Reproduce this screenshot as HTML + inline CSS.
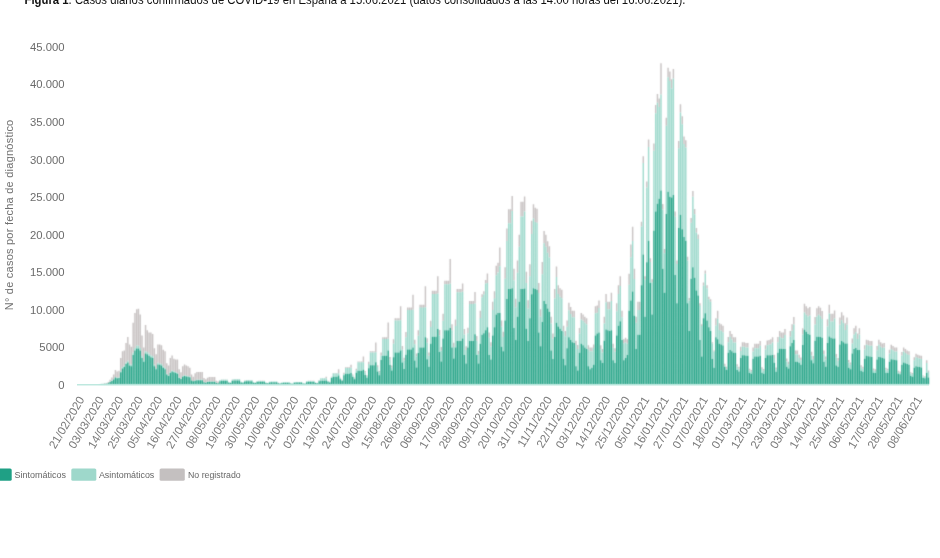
<!DOCTYPE html>
<html lang="es">
<head>
<meta charset="utf-8">
<title>Figura 1. Casos diarios confirmados de COVID-19 en España</title>
<style>
html,body{margin:0;padding:0;background:#fff;}
body{width:940px;height:558px;position:relative;overflow:hidden;font-family:"Liberation Sans",sans-serif;}
#fig{position:absolute;left:0;top:0;width:940px;height:558px;display:block;}
#fig text{font-family:"Liberation Sans",sans-serif;}
.cap{font-size:13.4px;fill:#111;}
.yl{font-size:11.3px;fill:#6b6b6b;text-anchor:end;}
.yt{font-size:11px;fill:#707070;text-anchor:middle;}
.xl{font-size:11.6px;fill:#7a7a7a;text-anchor:end;}
.lg{font-size:9.4px;fill:#666;}
</style>
</head>
<body>
<svg id="fig" width="940" height="558" viewBox="0 0 940 558">
<rect x="0" y="0" width="940" height="558" fill="#ffffff"/>
<text class="cap" x="24.5" y="3.5" textLength="661" lengthAdjust="spacingAndGlyphs"><tspan font-weight="bold">Figura 1</tspan>. Casos diarios confirmados de COVID-19 en España a 15.06.2021 (datos consolidados a las 14:00 horas del 16.06.2021).</text>
<g id="yaxis">
<text class="yl" x="64.5" y="388.8">0</text>
<text class="yl" x="64.5" y="351.25">5000</text>
<text class="yl" x="64.5" y="313.7">10.000</text>
<text class="yl" x="64.5" y="276.15">15.000</text>
<text class="yl" x="64.5" y="238.6">20.000</text>
<text class="yl" x="64.5" y="201.05">25.000</text>
<text class="yl" x="64.5" y="163.5">30.000</text>
<text class="yl" x="64.5" y="125.95">35.000</text>
<text class="yl" x="64.5" y="88.4">40.000</text>
<text class="yl" x="64.5" y="50.85">45.000</text>
</g>
<text class="yt" transform="translate(12.6,215) rotate(-90)" textLength="190.5" lengthAdjust="spacing">N° de casos por fecha de diagnóstico</text>
<defs><filter id="soft" x="0" y="0" width="940" height="558" filterUnits="userSpaceOnUse" color-interpolation-filters="sRGB"><feConvolveMatrix order="3" kernelMatrix="0.0225 0.105 0.0225 0.105 0.49 0.105 0.0225 0.105 0.0225" divisor="1" edgeMode="none"/></filter></defs>
<g id="bars" filter="url(#soft)">
<path id="s-gris" fill="#c8c3c3" d="M100.54 383.87h1.44v-0.09h-1.44zM102.31 383.71h1.44v-0.23h-1.44zM104.09 383.63h1.44v-0.3h-1.44zM105.86 383.51h1.44v-0.41h-1.44zM107.63 382.94h1.44v-0.9h-1.44zM109.4 381.74h1.44v-1.95h-1.44zM111.17 380.53h1.44v-2.99h-1.44zM112.94 378.93h1.44v-4.39h-1.44zM114.71 376.92h1.44v-6.89h-1.44zM116.48 377.72h1.44v-6.19h-1.44zM118.26 377.32h1.44v-6.54h-1.44zM120.03 371.29h1.44v-13.28h-1.44zM121.8 367.27h1.44v-16.02h-1.44zM123.57 365.67h1.44v-15.16h-1.44zM125.34 362.45h1.44v-19.46h-1.44zM127.11 360.85h1.44v-23.86h-1.44zM128.88 364.06h1.44v-19.56h-1.44zM130.65 364.86h1.44v-18.11h-1.44zM132.43 352.81h1.44v-30.09h-1.44zM134.2 347.99h1.44v-35.03h-1.44zM135.97 345.82h1.44v-36.62h-1.44zM137.74 345.82h1.44v-37h-1.44zM139.51 347.99h1.44v-33.53h-1.44zM141.28 356.02h1.44v-20.54h-1.44zM143.05 360.04h1.44v-12.54h-1.44zM144.83 351.28h1.44v-26.31h-1.44zM146.6 352.01h1.44v-21.78h-1.44zM148.37 353.61h1.44v-21.13h-1.44zM150.14 355.22h1.44v-22.74h-1.44zM151.91 356.02h1.44v-22.04h-1.44zM153.68 364.86h1.44v-16.61h-1.44zM155.45 368.08h1.44v-13.82h-1.44zM157.22 362.86h1.44v-18.36h-1.44zM159 363.26h1.44v-18.76h-1.44zM160.77 364.06h1.44v-18.81h-1.44zM162.54 366.47h1.44v-16.72h-1.44zM164.31 368.08h1.44v-16.82h-1.44zM166.08 373.7h1.44v-10.43h-1.44zM167.85 375.31h1.44v-9.79h-1.44zM169.62 372.1h1.44v-14.08h-1.44zM171.39 370.49h1.44v-15.1h-1.44zM173.17 371.29h1.44v-12.53h-1.44zM174.94 372.1h1.44v-12.58h-1.44zM176.71 372.9h1.44v-13.38h-1.44zM178.48 377.32h1.44v-8.04h-1.44zM180.25 378.52h1.44v-6.24h-1.44zM182.02 376.11h1.44v-9.84h-1.44zM183.79 375.31h1.44v-10.91h-1.44zM185.56 375.71h1.44v-10.19h-1.44zM187.34 376.11h1.44v-9.84h-1.44zM189.11 376.52h1.44v-8.74h-1.44zM190.88 380.13h1.44v-5.59h-1.44zM192.65 380.94h1.44v-4.15h-1.44zM194.42 380.24h1.44v-7.1h-1.44zM196.19 379.81h1.44v-7.9h-1.44zM197.96 379.81h1.44v-7.9h-1.44zM199.74 379.81h1.44v-7.9h-1.44zM201.51 379.81h1.44v-7.9h-1.44zM203.28 381.98h1.44v-3.88h-1.44zM205.05 382.41h1.44v-3.07h-1.44zM206.82 381.76h1.44v-4.02h-1.44zM208.59 381.5h1.44v-4.48h-1.44zM210.36 381.5h1.44v-4.48h-1.44zM212.13 381.5h1.44v-4.48h-1.44zM213.91 381.5h1.44v-4.48h-1.44zM215.68 382.82h1.44v-2.17h-1.44zM217.45 383.09h1.44v-1.7h-1.44zM219.22 380.21h1.44v-0.17h-1.44zM220.99 379.76h1.44v-0.19h-1.44zM222.76 379.76h1.44v-0.19h-1.44zM224.53 379.76h1.44v-0.19h-1.44zM226.3 379.76h1.44v-0.19h-1.44zM228.08 382.03h1.44v-0.09h-1.44zM229.85 382.48h1.44v-0.08h-1.44zM231.62 379.76h1.44v-0.19h-1.44zM233.39 379.25h1.44v-0.21h-1.44zM235.16 379.25h1.44v-0.21h-1.44zM236.93 379.25h1.44v-0.21h-1.44zM238.7 379.25h1.44v-0.21h-1.44zM240.48 381.78h1.44v-0.11h-1.44zM242.25 382.28h1.44v-0.08h-1.44zM244.02 380.67h1.44v-0.15h-1.44zM245.79 380.26h1.44v-0.17h-1.44zM247.56 380.26h1.44v-0.17h-1.44zM249.33 380.26h1.44v-0.17h-1.44zM251.1 380.26h1.44v-0.17h-1.44zM252.87 382.28h1.44v-0.08h-1.44zM254.65 382.69h1.44v-0.07h-1.44zM256.42 381.25h1.44v-0.13h-1.44zM258.19 380.91h1.44v-0.14h-1.44zM259.96 380.91h1.44v-0.14h-1.44zM261.73 380.91h1.44v-0.14h-1.44zM263.5 380.91h1.44v-0.14h-1.44zM265.27 382.61h1.44v-0.07h-1.44zM267.04 382.94h1.44v-0.06h-1.44zM268.82 381.83h1.44v-0.1h-1.44zM270.59 381.56h1.44v-0.11h-1.44zM272.36 381.56h1.44v-0.11h-1.44zM274.13 381.56h1.44v-0.11h-1.44zM275.9 381.56h1.44v-0.11h-1.44zM277.67 382.93h1.44v-0.06h-1.44zM281.22 382.48h1.44v-0.08h-1.44zM282.99 382.28h1.44v-0.08h-1.44zM284.76 382.28h1.44v-0.08h-1.44zM286.53 382.28h1.44v-0.08h-1.44zM288.3 382.28h1.44v-0.08h-1.44zM293.61 382.22h1.44v-0.09h-1.44zM295.39 381.99h1.44v-0.1h-1.44zM297.16 381.99h1.44v-0.1h-1.44zM298.93 381.99h1.44v-0.1h-1.44zM300.7 381.99h1.44v-0.1h-1.44zM306.01 381.32h1.44v-0.12h-1.44zM307.78 380.98h1.44v-0.14h-1.44zM309.56 380.98h1.44v-0.14h-1.44zM311.33 380.98h1.44v-0.14h-1.44zM313.1 380.98h1.44v-0.14h-1.44zM314.87 382.64h1.44v-0.07h-1.44zM316.64 382.97h1.44v-0.06h-1.44zM318.41 380.53h1.44v-0.42h-1.44zM320.18 378.36h1.44v-0.22h-1.44zM321.96 378.36h1.44v-0.22h-1.44zM323.73 378.36h1.44v-0.22h-1.44zM325.5 378.33h1.44v-1.46h-1.44zM327.27 381.09h1.44v-0.36h-1.44zM329.04 382.08h1.44v-0.25h-1.44zM330.81 377.41h1.44v-0.77h-1.44zM332.58 373.43h1.44v-0.39h-1.44zM334.35 373.43h1.44v-0.39h-1.44zM336.13 373.43h1.44v-0.39h-1.44zM337.9 373.37h1.44v-4.09h-1.44zM339.67 378.42h1.44v-0.65h-1.44zM341.44 380.24h1.44v-0.45h-1.44zM343.21 373.91h1.44v-1.15h-1.44zM344.98 367.92h1.44v-0.59h-1.44zM346.75 367.92h1.44v-0.59h-1.44zM348.52 367.92h1.44v-0.59h-1.44zM350.3 367.84h1.44v-3.06h-1.44zM352.07 375.44h1.44v-0.98h-1.44zM353.84 378.19h1.44v-0.68h-1.44zM355.61 370.37h1.44v-1.55h-1.44zM357.38 362.34h1.44v-0.8h-1.44zM359.15 362.34h1.44v-0.8h-1.44zM360.92 362.34h1.44v-0.8h-1.44zM362.69 362.23h1.44v-5.71h-1.44zM364.47 372.42h1.44v-1.32h-1.44zM366.24 376.11h1.44v-0.91h-1.44zM368.01 364.08h1.44v-2.25h-1.44zM369.78 352.41h1.44v-1.16h-1.44zM371.55 352.41h1.44v-1.16h-1.44zM373.32 352.41h1.44v-1.16h-1.44zM375.09 352.25h1.44v-9.7h-1.44zM376.87 367.05h1.44v-1.92h-1.44zM378.64 372.4h1.44v-1.32h-1.44zM380.41 355.57h1.44v-3.19h-1.44zM382.18 339.01h1.44v-1.64h-1.44zM383.95 339.01h1.44v-1.64h-1.44zM385.72 339.01h1.44v-1.64h-1.44zM387.49 338.77h1.44v-16.2h-1.44zM389.26 359.8h1.44v-2.72h-1.44zM391.04 367.4h1.44v-1.88h-1.44zM392.81 343.85h1.44v-4.49h-1.44zM394.58 320.53h1.44v-2.31h-1.44zM396.35 320.53h1.44v-2.31h-1.44zM398.12 320.53h1.44v-2.31h-1.44zM399.89 320.19h1.44v-14h-1.44zM401.66 349.8h1.44v-3.83h-1.44zM403.43 360.51h1.44v-2.64h-1.44zM405.21 337.24h1.44v-5.23h-1.44zM406.98 310.09h1.44v-2.69h-1.44zM408.75 310.09h1.44v-2.69h-1.44zM410.52 310.09h1.44v-2.69h-1.44zM412.29 309.7h1.44v-15.07h-1.44zM414.06 344.16h1.44v-4.46h-1.44zM415.83 356.62h1.44v-3.08h-1.44zM417.61 335.67h1.44v-5.4h-1.44zM419.38 307.63h1.44v-2.78h-1.44zM421.15 307.63h1.44v-2.78h-1.44zM422.92 307.63h1.44v-2.78h-1.44zM424.69 307.23h1.44v-20.86h-1.44zM426.46 342.82h1.44v-4.61h-1.44zM428.23 355.7h1.44v-3.18h-1.44zM430 327.08h1.44v-6.36h-1.44zM431.78 294.07h1.44v-3.27h-1.44zM433.55 294.07h1.44v-3.27h-1.44zM435.32 294.07h1.44v-3.27h-1.44zM437.09 293.61h1.44v-17.45h-1.44zM438.86 335.49h1.44v-5.42h-1.44zM440.63 350.64h1.44v-3.74h-1.44zM442.4 320.87h1.44v-7.05h-1.44zM444.17 284.29h1.44v-3.63h-1.44zM445.95 284.29h1.44v-3.63h-1.44zM447.72 284.29h1.44v-3.63h-1.44zM449.49 283.77h1.44v-24.89h-1.44zM451.26 330.2h1.44v-6.01h-1.44zM453.03 346.99h1.44v-4.15h-1.44zM454.8 325.93h1.44v-6.49h-1.44zM456.57 292.26h1.44v-3.34h-1.44zM458.35 292.26h1.44v-3.34h-1.44zM460.12 292.26h1.44v-3.34h-1.44zM461.89 291.78h1.44v-8.34h-1.44zM463.66 334.51h1.44v-5.53h-1.44zM465.43 349.96h1.44v-3.82h-1.44zM467.2 333.33h1.44v-5.66h-1.44zM468.97 303.93h1.44v-2.92h-1.44zM470.74 303.93h1.44v-2.92h-1.44zM472.52 303.93h1.44v-2.92h-1.44zM474.29 303.51h1.44v-11.44h-1.44zM476.06 340.82h1.44v-4.83h-1.44zM477.83 354.32h1.44v-3.33h-1.44zM479.6 318.06h1.44v-7.36h-1.44zM481.37 297.33h1.44v-3.15h-1.44zM483.14 294.44h1.44v-3.26h-1.44zM484.91 283.56h1.44v-3.65h-1.44zM486.69 283.04h1.44v-9.44h-1.44zM488.46 337.66h1.44v-5.18h-1.44zM490.23 346.45h1.44v-4.21h-1.44zM492 309.95h1.44v-8.26h-1.44zM493.77 298.63h1.44v-7.45h-1.44zM495.54 275.13h1.44v-9.49h-1.44zM497.31 272.37h1.44v-9.73h-1.44zM499.09 266.29h1.44v-18.67h-1.44zM500.86 326.85h1.44v-6.38h-1.44zM502.63 336.99h1.44v-5.26h-1.44zM504.4 278.86h1.44v-11.72h-1.44zM506.17 240.93h1.44v-12.47h-1.44zM507.94 223.32h1.44v-14h-1.44zM509.71 223.32h1.44v-14h-1.44zM511.48 210.95h1.44v-15.07h-1.44zM513.26 280.21h1.44v-11.57h-1.44zM515.03 307.25h1.44v-8.56h-1.44zM516.8 272.78h1.44v-12.39h-1.44zM518.57 246.81h1.44v-11.96h-1.44zM520.34 216.41h1.44v-14.6h-1.44zM522.11 216.41h1.44v-14.6h-1.44zM523.88 211.57h1.44v-15.02h-1.44zM525.65 282.92h1.44v-11.26h-1.44zM527.43 308.6h1.44v-8.41h-1.44zM529.2 276.16h1.44v-12.02h-1.44zM530.97 233.89h1.44v-13.08h-1.44zM532.74 218.62h1.44v-14.41h-1.44zM534.51 221.93h1.44v-14.12h-1.44zM536.28 222.69h1.44v-14.05h-1.44zM538.05 293.05h1.44v-10.14h-1.44zM539.82 316.71h1.44v-7.51h-1.44zM541.6 274.13h1.44v-12.24h-1.44zM543.37 243.28h1.44v-12.26h-1.44zM545.14 246.81h1.44v-11.96h-1.44zM546.91 252.68h1.44v-11.45h-1.44zM548.68 257.38h1.44v-11.04h-1.44zM550.45 323.47h1.44v-6.76h-1.44zM552.22 338.54h1.44v-5.08h-1.44zM554 298.46h1.44v-9.54h-1.44zM555.77 277h1.44v-10.61h-1.44zM557.54 294.09h1.44v-8.92h-1.44zM559.31 296.82h1.44v-8.65h-1.44zM561.08 298.19h1.44v-8.52h-1.44zM562.85 331.58h1.44v-5.86h-1.44zM564.62 336.31h1.44v-5.33h-1.44zM566.39 326.85h1.44v-6.38h-1.44zM568.17 310.15h1.44v-7.33h-1.44zM569.94 313.91h1.44v-6.96h-1.44zM571.71 317.33h1.44v-6.62h-1.44zM573.48 317.33h1.44v-6.62h-1.44zM575.25 345.1h1.44v-4.36h-1.44zM577.02 348.88h1.44v-3.94h-1.44zM578.79 333.61h1.44v-5.63h-1.44zM580.56 319.38h1.44v-6.42h-1.44zM582.34 320.74h1.44v-6.29h-1.44zM584.11 322.79h1.44v-6.08h-1.44zM585.88 324.16h1.44v-5.95h-1.44zM587.65 349.15h1.44v-3.91h-1.44zM589.42 351.18h1.44v-3.68h-1.44zM591.19 351.18h1.44v-3.68h-1.44zM592.96 348.08h1.44v-3.58h-1.44zM594.74 313.23h1.44v-7.03h-1.44zM596.51 312.68h1.44v-7.08h-1.44zM598.28 308.03h1.44v-7.54h-1.44zM600.05 349.15h1.44v-3.91h-1.44zM601.82 352.53h1.44v-3.53h-1.44zM603.59 323.47h1.44v-6.76h-1.44zM605.36 302.22h1.44v-8.12h-1.44zM607.13 309.19h1.44v-7.43h-1.44zM608.91 309.19h1.44v-7.43h-1.44zM610.68 301.06h1.44v-8.23h-1.44zM612.45 347.8h1.44v-4.06h-1.44zM614.22 351.86h1.44v-3.6h-1.44zM615.99 311.3h1.44v-8.11h-1.44zM617.76 294.09h1.44v-8.92h-1.44zM619.53 285.89h1.44v-9.73h-1.44zM621.3 317.33h1.44v-6.62h-1.44zM623.08 343.3h1.44v-4.06h-1.44zM624.85 342.39h1.44v-4.66h-1.44zM626.62 343.75h1.44v-4.51h-1.44zM628.39 284.74h1.44v-11.06h-1.44zM630.16 257.19h1.44v-12.57h-1.44zM631.93 240.99h1.44v-14.17h-1.44zM633.7 279.05h1.44v-10.41h-1.44zM635.48 322.79h1.44v-6.08h-1.44zM637.25 309.95h1.44v-8.26h-1.44zM639.02 309.95h1.44v-8.26h-1.44zM640.79 226.59h1.44v-4.88h-1.44zM642.56 163.06h1.44v-6.84h-1.44zM644.33 279.4h1.44v-3.24h-1.44zM646.1 187.61h1.44v-6.08h-1.44zM647.87 146.96h1.44v-7.34h-1.44zM649.65 261.92h1.44v-3.79h-1.44zM651.42 282.31h1.44v-3.15h-1.44zM653.19 150.68h1.44v-7.23h-1.44zM654.96 113.31h1.44v-8.38h-1.44zM656.73 102.67h1.44v-8.71h-1.44zM658.5 106.97h1.44v-8.58h-1.44zM660.27 94.41h1.44v-31.09h-1.44zM662.04 209.47h1.44v-5.41h-1.44zM663.82 253.18h1.44v-4.06h-1.44zM665.59 125.69h1.44v-8h-1.44zM667.36 77.25h1.44v-9.5h-1.44zM669.13 80.97h1.44v-9.38h-1.44zM670.9 88.4h1.44v-9.15h-1.44zM672.67 78.49h1.44v-9.46h-1.44zM674.44 216.75h1.44v-5.18h-1.44zM676.22 264.1h1.44v-3.72h-1.44zM677.99 148.28h1.44v-7.3h-1.44zM679.76 112.58h1.44v-8.4h-1.44zM681.53 124.24h1.44v-8.04h-1.44zM683.3 143.9h1.44v-7.43h-1.44zM685.07 147.55h1.44v-7.32h-1.44zM686.84 260.46h1.44v-3.83h-1.44zM688.61 300.53h1.44v-2.59h-1.44zM690.39 222.87h1.44v-4.99h-1.44zM692.16 196.86h1.44v-5.8h-1.44zM693.93 214.2h1.44v-5.26h-1.44zM695.7 232.78h1.44v-4.69h-1.44zM697.47 238.97h1.44v-4.49h-1.44zM699.24 305.63h1.44v-2.43h-1.44zM701.01 326.02h1.44v-1.8h-1.44zM702.78 285.67h1.44v-3.05h-1.44zM704.56 273.86h1.44v-3.42h-1.44zM706.33 288.14h1.44v-2.97h-1.44zM708.1 299.29h1.44v-2.63h-1.44zM709.87 301.76h1.44v-2.55h-1.44zM711.64 343.51h1.44v-1.26h-1.44zM713.41 351.52h1.44v-1.01h-1.44zM715.18 325.62h1.44v-7.25h-1.44zM716.95 318.8h1.44v-8.1h-1.44zM718.73 329.96h1.44v-6.72h-1.44zM720.5 330.83h1.44v-6.61h-1.44zM722.27 332.17h1.44v-6.44h-1.44zM724.04 366.02h1.44v-2.26h-1.44zM725.81 368.79h1.44v-1.92h-1.44zM727.58 342.19h1.44v-5.2h-1.44zM729.35 336.84h1.44v-5.87h-1.44zM731.13 339.52h1.44v-5.53h-1.44zM732.9 342.53h1.44v-5.16h-1.44zM734.67 342.53h1.44v-5.16h-1.44zM736.44 366.45h1.44v-2.21h-1.44zM738.21 368.73h1.44v-1.92h-1.44zM739.98 350.88h1.44v-4.13h-1.44zM741.75 346.87h1.44v-4.63h-1.44zM743.52 346.87h1.44v-4.63h-1.44zM745.3 347.54h1.44v-4.54h-1.44zM747.07 347.54h1.44v-4.54h-1.44zM748.84 370.53h1.44v-1.7h-1.44zM750.61 371.67h1.44v-1.56h-1.44zM752.38 351.55h1.44v-4.05h-1.44zM754.15 348.21h1.44v-4.46h-1.44zM755.92 348.21h1.44v-4.46h-1.44zM757.69 348.21h1.44v-4.46h-1.44zM759.47 345.87h1.44v-4.75h-1.44zM761.24 369.03h1.44v-1.89h-1.44zM763.01 370.73h1.44v-1.68h-1.44zM764.78 349.54h1.44v-4.3h-1.44zM766.55 345.33h1.44v-4.82h-1.44zM768.32 344.86h1.44v-4.87h-1.44zM770.09 344.2h1.44v-4.96h-1.44zM771.87 342.53h1.44v-5.16h-1.44zM773.64 357.98h1.44v-3.25h-1.44zM775.41 369.25h1.44v-1.86h-1.44zM777.18 342.19h1.44v-5.2h-1.44zM778.95 336.84h1.44v-5.87h-1.44zM780.72 338.18h1.44v-5.7h-1.44zM782.49 338.18h1.44v-5.7h-1.44zM784.26 335.11h1.44v-6.08h-1.44zM786.04 361.43h1.44v-2.83h-1.44zM787.81 364.18h1.44v-2.49h-1.44zM789.58 336.84h1.44v-5.87h-1.44zM791.35 330.83h1.44v-6.61h-1.44zM793.12 324.48h1.44v-7.39h-1.44zM794.89 354.22h1.44v-3.72h-1.44zM796.66 354.22h1.44v-3.72h-1.44zM798.43 357.98h1.44v-3.25h-1.44zM800.21 360.37h1.44v-2.96h-1.44zM801.98 334.5h1.44v-6.15h-1.44zM803.75 312.51h1.44v-8.87h-1.44zM805.52 314.79h1.44v-8.59h-1.44zM807.29 316.53h1.44v-8.38h-1.44zM809.06 315.46h1.44v-8.51h-1.44zM810.83 355.43h1.44v-3.57h-1.44zM812.61 359.03h1.44v-3.12h-1.44zM814.38 324.48h1.44v-7.39h-1.44zM816.15 316.53h1.44v-8.38h-1.44zM817.92 314.79h1.44v-8.59h-1.44zM819.69 316.26h1.44v-8.41h-1.44zM821.46 319.07h1.44v-8.06h-1.44zM823.23 354.19h1.44v-3.72h-1.44zM825 359.47h1.44v-3.07h-1.44zM826.78 326.48h1.44v-7.15h-1.44zM828.55 313.45h1.44v-8.76h-1.44zM830.32 321.47h1.44v-7.77h-1.44zM832.09 321.47h1.44v-7.77h-1.44zM833.86 318.53h1.44v-8.13h-1.44zM835.63 357.3h1.44v-3.34h-1.44zM837.4 360.87h1.44v-2.9h-1.44zM839.17 324.81h1.44v-7.35h-1.44zM840.95 320.2h1.44v-7.92h-1.44zM842.72 323.08h1.44v-7.57h-1.44zM844.49 329.89h1.44v-6.72h-1.44zM846.26 324.81h1.44v-7.35h-1.44zM848.03 362.58h1.44v-2.68h-1.44zM849.8 364.85h1.44v-2.4h-1.44zM851.57 343.53h1.44v-5.04h-1.44zM853.35 334.44h1.44v-6.16h-1.44zM855.12 332.17h1.44v-6.44h-1.44zM856.89 338.98h1.44v-5.6h-1.44zM858.66 334.44h1.44v-6.16h-1.44zM860.43 367.31h1.44v-2.1h-1.44zM862.2 368.79h1.44v-1.92h-1.44zM863.97 349.54h1.44v-4.3h-1.44zM865.74 344.66h1.44v-4.9h-1.44zM867.52 345.2h1.44v-4.83h-1.44zM869.29 345.8h1.44v-4.76h-1.44zM871.06 345.8h1.44v-4.76h-1.44zM872.83 370.2h1.44v-1.74h-1.44zM874.6 371h1.44v-1.64h-1.44zM876.37 350.21h1.44v-4.21h-1.44zM878.14 344.66h1.44v-4.9h-1.44zM879.91 346.87h1.44v-4.63h-1.44zM881.69 348.07h1.44v-4.48h-1.44zM883.46 347.54h1.44v-4.54h-1.44zM885.23 369.5h1.44v-1.83h-1.44zM887 370.53h1.44v-1.7h-1.44zM888.77 353.55h1.44v-3.8h-1.44zM890.54 349.21h1.44v-4.34h-1.44zM892.31 350.21h1.44v-4.21h-1.44zM894.08 351.55h1.44v-4.05h-1.44zM895.86 351.55h1.44v-4.05h-1.44zM897.63 372.14h1.44v-1.5h-1.44zM899.4 372.98h1.44v-1.4h-1.44zM901.17 355.56h1.44v-3.55h-1.44zM902.94 351.55h1.44v-4.05h-1.44zM904.71 352.89h1.44v-3.88h-1.44zM906.48 354.22h1.44v-3.72h-1.44zM908.26 354.89h1.44v-3.63h-1.44zM910.03 373.49h1.44v-1.34h-1.44zM911.8 374.34h1.44v-1.23h-1.44zM913.57 360.24h1.44v-2.97h-1.44zM915.34 357.16h1.44v-3.35h-1.44zM917.11 357.9h1.44v-3.26h-1.44zM918.88 358.57h1.44v-3.18h-1.44zM920.65 358.9h1.44v-3.14h-1.44zM922.43 376.37h1.44v-0.98h-1.44zM924.2 377.08h1.44v-0.89h-1.44zM925.97 362.91h1.44v-2.64h-1.44zM927.74 372h1.44v-1.52h-1.44z"/>
<path id="s-asin" fill="#9fdacd" d="M97 384.22h1.44v-0.08h-1.44zM98.77 384.15h1.44v-0.15h-1.44zM100.54 384.04h1.44v-0.17h-1.44zM102.31 383.89h1.44v-0.18h-1.44zM104.09 383.81h1.44v-0.18h-1.44zM105.86 383.7h1.44v-0.19h-1.44zM107.63 383.17h1.44v-0.23h-1.44zM109.4 382.05h1.44v-0.31h-1.44zM111.17 380.92h1.44v-0.39h-1.44zM112.94 379.42h1.44v-0.49h-1.44zM114.71 377.54h1.44v-0.62h-1.44zM116.48 378.29h1.44v-0.57h-1.44zM118.26 377.92h1.44v-0.6h-1.44zM120.03 372.28h1.44v-0.99h-1.44zM121.8 368.53h1.44v-1.25h-1.44zM123.57 367.03h1.44v-1.36h-1.44zM125.34 364.02h1.44v-1.57h-1.44zM127.11 362.52h1.44v-1.67h-1.44zM128.88 365.53h1.44v-1.46h-1.44zM130.65 366.28h1.44v-1.41h-1.44zM132.43 355.01h1.44v-2.2h-1.44zM134.2 350.5h1.44v-2.52h-1.44zM135.97 348.48h1.44v-2.66h-1.44zM137.74 348.48h1.44v-2.66h-1.44zM139.51 350.5h1.44v-2.52h-1.44zM141.28 358.01h1.44v-1.99h-1.44zM143.05 361.77h1.44v-1.73h-1.44zM144.83 353.58h1.44v-2.3h-1.44zM146.6 354.26h1.44v-2.25h-1.44zM148.37 355.76h1.44v-2.15h-1.44zM150.14 357.26h1.44v-2.04h-1.44zM151.91 358.01h1.44v-1.99h-1.44zM153.68 366.28h1.44v-1.41h-1.44zM155.45 369.28h1.44v-1.2h-1.44zM157.22 364.4h1.44v-1.54h-1.44zM159 364.77h1.44v-1.52h-1.44zM160.77 365.53h1.44v-1.46h-1.44zM162.54 367.78h1.44v-1.31h-1.44zM164.31 369.28h1.44v-1.2h-1.44zM166.08 374.54h1.44v-0.83h-1.44zM167.85 376.04h1.44v-0.73h-1.44zM169.62 373.04h1.44v-0.94h-1.44zM171.39 371.53h1.44v-1.04h-1.44zM173.17 372.28h1.44v-0.99h-1.44zM174.94 373.04h1.44v-0.94h-1.44zM176.71 373.79h1.44v-0.89h-1.44zM178.48 377.92h1.44v-0.6h-1.44zM180.25 379.04h1.44v-0.52h-1.44zM182.02 376.79h1.44v-0.68h-1.44zM183.79 376.04h1.44v-0.73h-1.44zM185.56 376.41h1.44v-0.7h-1.44zM187.34 376.79h1.44v-0.68h-1.44zM189.11 377.17h1.44v-0.65h-1.44zM190.88 380.55h1.44v-0.41h-1.44zM192.65 381.3h1.44v-0.36h-1.44zM194.42 380.65h1.44v-0.41h-1.44zM196.19 380.24h1.44v-0.43h-1.44zM197.96 380.24h1.44v-0.43h-1.44zM199.74 380.24h1.44v-0.43h-1.44zM201.51 380.24h1.44v-0.43h-1.44zM203.28 382.27h1.44v-0.29h-1.44zM205.05 382.68h1.44v-0.26h-1.44zM206.82 382.07h1.44v-0.31h-1.44zM208.59 381.82h1.44v-0.32h-1.44zM210.36 381.82h1.44v-0.32h-1.44zM212.13 381.82h1.44v-0.32h-1.44zM213.91 381.82h1.44v-0.32h-1.44zM215.68 383.06h1.44v-0.24h-1.44zM217.45 383.31h1.44v-0.22h-1.44zM219.22 381.33h1.44v-1.11h-1.44zM220.99 381h1.44v-1.24h-1.44zM222.76 381h1.44v-1.24h-1.44zM224.53 381h1.44v-1.24h-1.44zM226.3 381h1.44v-1.24h-1.44zM228.08 382.65h1.44v-0.62h-1.44zM229.85 382.98h1.44v-0.5h-1.44zM231.62 380.92h1.44v-1.16h-1.44zM233.39 380.55h1.44v-1.29h-1.44zM235.16 380.55h1.44v-1.29h-1.44zM236.93 380.55h1.44v-1.29h-1.44zM238.7 380.55h1.44v-1.29h-1.44zM240.48 382.42h1.44v-0.65h-1.44zM242.25 382.8h1.44v-0.52h-1.44zM244.02 381.6h1.44v-0.93h-1.44zM245.79 381.3h1.44v-1.03h-1.44zM247.56 381.3h1.44v-1.03h-1.44zM249.33 381.3h1.44v-1.03h-1.44zM251.1 381.3h1.44v-1.03h-1.44zM252.87 382.8h1.44v-0.52h-1.44zM254.65 383.1h1.44v-0.41h-1.44zM256.42 382h1.44v-0.75h-1.44zM258.19 381.75h1.44v-0.84h-1.44zM259.96 381.75h1.44v-0.84h-1.44zM261.73 381.75h1.44v-0.84h-1.44zM263.5 381.75h1.44v-0.84h-1.44zM265.27 383.02h1.44v-0.42h-1.44zM267.04 383.28h1.44v-0.33h-1.44zM268.82 382.48h1.44v-0.64h-1.44zM270.59 382.27h1.44v-0.71h-1.44zM272.36 382.27h1.44v-0.71h-1.44zM274.13 382.27h1.44v-0.71h-1.44zM275.9 382.27h1.44v-0.71h-1.44zM277.67 383.29h1.44v-0.36h-1.44zM279.44 383.49h1.44v-0.28h-1.44zM281.22 382.95h1.44v-0.47h-1.44zM282.99 382.8h1.44v-0.52h-1.44zM284.76 382.8h1.44v-0.52h-1.44zM286.53 382.8h1.44v-0.52h-1.44zM288.3 382.8h1.44v-0.52h-1.44zM290.07 383.55h1.44v-0.26h-1.44zM291.84 383.7h1.44v-0.21h-1.44zM293.61 382.75h1.44v-0.52h-1.44zM295.39 382.57h1.44v-0.58h-1.44zM297.16 382.57h1.44v-0.58h-1.44zM298.93 382.57h1.44v-0.58h-1.44zM300.7 382.57h1.44v-0.58h-1.44zM302.47 383.44h1.44v-0.29h-1.44zM304.24 383.61h1.44v-0.23h-1.44zM306.01 382.14h1.44v-0.82h-1.44zM307.78 381.9h1.44v-0.91h-1.44zM309.56 381.9h1.44v-0.91h-1.44zM311.33 381.9h1.44v-0.91h-1.44zM313.1 381.9h1.44v-0.91h-1.44zM314.87 383.1h1.44v-0.46h-1.44zM316.64 383.34h1.44v-0.37h-1.44zM318.41 381.24h1.44v-0.7h-1.44zM320.18 380.7h1.44v-2.34h-1.44zM321.96 380.7h1.44v-2.34h-1.44zM323.73 380.7h1.44v-2.34h-1.44zM325.5 380.39h1.44v-2.07h-1.44zM327.27 381.85h1.44v-0.76h-1.44zM329.04 382.57h1.44v-0.49h-1.44zM330.81 377.98h1.44v-0.57h-1.44zM332.58 376.87h1.44v-3.44h-1.44zM334.35 376.87h1.44v-3.44h-1.44zM336.13 376.87h1.44v-3.44h-1.44zM337.9 375.59h1.44v-2.22h-1.44zM339.67 379.24h1.44v-0.82h-1.44zM341.44 380.73h1.44v-0.49h-1.44zM343.21 375.3h1.44v-1.39h-1.44zM344.98 373.71h1.44v-5.79h-1.44zM346.75 373.71h1.44v-5.79h-1.44zM348.52 373.71h1.44v-5.79h-1.44zM350.3 373.04h1.44v-5.2h-1.44zM352.07 377.1h1.44v-1.66h-1.44zM353.84 379.22h1.44v-1.03h-1.44zM355.61 372.81h1.44v-2.44h-1.44zM357.38 370.78h1.44v-8.44h-1.44zM359.15 370.78h1.44v-8.44h-1.44zM360.92 370.78h1.44v-8.44h-1.44zM362.69 369.66h1.44v-7.43h-1.44zM364.47 375.11h1.44v-2.69h-1.44zM366.24 377.81h1.44v-1.7h-1.44zM368.01 368.21h1.44v-4.14h-1.44zM369.78 365.37h1.44v-12.96h-1.44zM371.55 365.37h1.44v-12.96h-1.44zM373.32 365.37h1.44v-12.96h-1.44zM375.09 362.22h1.44v-9.97h-1.44zM376.87 371.43h1.44v-4.38h-1.44zM378.64 375.22h1.44v-2.81h-1.44zM380.41 360.04h1.44v-4.47h-1.44zM382.18 355.76h1.44v-16.76h-1.44zM383.95 355.76h1.44v-16.76h-1.44zM385.72 355.76h1.44v-16.76h-1.44zM387.49 350.5h1.44v-11.73h-1.44zM389.26 364.89h1.44v-5.1h-1.44zM391.04 370.6h1.44v-3.2h-1.44zM392.81 357.17h1.44v-13.32h-1.44zM394.58 352.38h1.44v-31.86h-1.44zM396.35 352.38h1.44v-31.86h-1.44zM398.12 352.38h1.44v-31.86h-1.44zM399.89 350.5h1.44v-30.31h-1.44zM401.66 362.6h1.44v-12.79h-1.44zM403.43 368.98h1.44v-8.47h-1.44zM405.21 354.68h1.44v-17.44h-1.44zM406.98 349.45h1.44v-39.36h-1.44zM408.75 349.45h1.44v-39.36h-1.44zM410.52 349.45h1.44v-39.36h-1.44zM412.29 347.5h1.44v-37.8h-1.44zM414.06 360.6h1.44v-16.45h-1.44zM415.83 367.57h1.44v-10.96h-1.44zM417.61 353.02h1.44v-17.35h-1.44zM419.38 347.5h1.44v-39.88h-1.44zM421.15 347.5h1.44v-39.88h-1.44zM422.92 347.5h1.44v-39.88h-1.44zM424.69 337.36h1.44v-30.13h-1.44zM426.46 359.28h1.44v-16.45h-1.44zM428.23 366.64h1.44v-10.94h-1.44zM430 343.83h1.44v-16.75h-1.44zM431.78 336.69h1.44v-42.61h-1.44zM433.55 336.69h1.44v-42.61h-1.44zM435.32 336.69h1.44v-42.61h-1.44zM437.09 329.03h1.44v-35.42h-1.44zM438.86 351.92h1.44v-16.43h-1.44zM440.63 361.45h1.44v-10.81h-1.44zM442.4 338.4h1.44v-17.53h-1.44zM444.17 330.3h1.44v-46.01h-1.44zM445.95 330.3h1.44v-46.01h-1.44zM447.72 330.3h1.44v-46.01h-1.44zM449.49 327.98h1.44v-44.2h-1.44zM451.26 347.58h1.44v-17.38h-1.44zM453.03 358.38h1.44v-11.39h-1.44zM454.8 347.59h1.44v-21.67h-1.44zM456.57 341.12h1.44v-48.86h-1.44zM458.35 341.12h1.44v-48.86h-1.44zM460.12 341.12h1.44v-48.86h-1.44zM461.89 338.49h1.44v-46.7h-1.44zM463.66 354.94h1.44v-20.42h-1.44zM465.43 363.57h1.44v-13.61h-1.44zM467.2 347.59h1.44v-14.27h-1.44zM468.97 341.12h1.44v-37.19h-1.44zM470.74 341.12h1.44v-37.19h-1.44zM472.52 341.12h1.44v-37.19h-1.44zM474.29 334.13h1.44v-30.62h-1.44zM476.06 354.94h1.44v-14.11h-1.44zM477.83 363.57h1.44v-9.26h-1.44zM479.6 343.75h1.44v-25.68h-1.44zM481.37 334.73h1.44v-37.4h-1.44zM483.14 333.23h1.44v-38.8h-1.44zM484.91 330.23h1.44v-46.66h-1.44zM486.69 327.22h1.44v-44.18h-1.44zM488.46 355.01h1.44v-17.35h-1.44zM490.23 359.52h1.44v-13.07h-1.44zM492 335.49h1.44v-25.53h-1.44zM493.77 327.22h1.44v-28.6h-1.44zM495.54 314.46h1.44v-39.32h-1.44zM497.31 312.96h1.44v-40.58h-1.44zM499.09 312.96h1.44v-46.67h-1.44zM500.86 346.75h1.44v-19.9h-1.44zM502.63 351.33h1.44v-14.34h-1.44zM504.4 320.47h1.44v-41.61h-1.44zM506.17 299.06h1.44v-58.13h-1.44zM507.94 288.92h1.44v-65.61h-1.44zM509.71 288.92h1.44v-65.61h-1.44zM511.48 288.17h1.44v-77.22h-1.44zM513.26 327.98h1.44v-47.76h-1.44zM515.03 339.99h1.44v-32.74h-1.44zM516.8 316.71h1.44v-43.93h-1.44zM518.57 301.69h1.44v-54.88h-1.44zM520.34 288.92h1.44v-72.52h-1.44zM522.11 288.92h1.44v-72.52h-1.44zM523.88 288.55h1.44v-76.98h-1.44zM525.65 328.73h1.44v-45.81h-1.44zM527.43 341.12h1.44v-32.52h-1.44zM529.2 318.21h1.44v-42.06h-1.44zM530.97 294.18h1.44v-60.29h-1.44zM532.74 288.17h1.44v-69.55h-1.44zM534.51 288.92h1.44v-66.99h-1.44zM536.28 289.67h1.44v-66.98h-1.44zM538.05 332.48h1.44v-39.43h-1.44zM539.82 346.22h1.44v-29.51h-1.44zM541.6 321.97h1.44v-47.84h-1.44zM543.37 300.94h1.44v-57.66h-1.44zM545.14 303.94h1.44v-57.14h-1.44zM546.91 308.45h1.44v-55.77h-1.44zM548.68 311.83h1.44v-54.45h-1.44zM550.45 350.5h1.44v-27.04h-1.44zM552.22 358.99h1.44v-20.45h-1.44zM554 336.99h1.44v-38.53h-1.44zM555.77 322.72h1.44v-45.71h-1.44zM557.54 326.47h1.44v-32.38h-1.44zM559.31 328.73h1.44v-31.9h-1.44zM561.08 330.98h1.44v-32.79h-1.44zM562.85 358.77h1.44v-27.19h-1.44zM564.62 365.37h1.44v-29.06h-1.44zM566.39 348.25h1.44v-21.4h-1.44zM568.17 337.36h1.44v-27.21h-1.44zM569.94 339.99h1.44v-26.08h-1.44zM571.71 342.24h1.44v-24.92h-1.44zM573.48 343h1.44v-25.67h-1.44zM575.25 366.28h1.44v-21.18h-1.44zM577.02 370.48h1.44v-21.6h-1.44zM578.79 352.76h1.44v-19.15h-1.44zM580.56 343.75h1.44v-24.37h-1.44zM582.34 345.25h1.44v-24.51h-1.44zM584.11 347.5h1.44v-24.71h-1.44zM585.88 349h1.44v-24.84h-1.44zM587.65 366.28h1.44v-17.12h-1.44zM589.42 369.28h1.44v-18.1h-1.44zM591.19 367.78h1.44v-16.6h-1.44zM592.96 364.77h1.44v-16.69h-1.44zM594.74 335.49h1.44v-22.26h-1.44zM596.51 333.46h1.44v-20.78h-1.44zM598.28 332.48h1.44v-24.45h-1.44zM600.05 360.27h1.44v-11.11h-1.44zM601.82 362.9h1.44v-10.36h-1.44zM603.59 340.74h1.44v-17.27h-1.44zM605.36 329.48h1.44v-27.25h-1.44zM607.13 330.23h1.44v-21.03h-1.44zM608.91 330.98h1.44v-21.79h-1.44zM610.68 330.23h1.44v-29.17h-1.44zM612.45 360.27h1.44v-12.47h-1.44zM614.22 362.9h1.44v-11.04h-1.44zM615.99 335.49h1.44v-24.18h-1.44zM617.76 325.72h1.44v-31.63h-1.44zM619.53 321.22h1.44v-35.33h-1.44zM621.3 339.99h1.44v-22.67h-1.44zM623.08 360.27h1.44v-16.97h-1.44zM624.85 358.01h1.44v-15.62h-1.44zM626.62 355.01h1.44v-11.26h-1.44zM628.39 310.7h1.44v-25.96h-1.44zM630.16 300.49h1.44v-43.3h-1.44zM631.93 291.55h1.44v-50.56h-1.44zM633.7 315.81h1.44v-36.75h-1.44zM635.48 349h1.44v-26.21h-1.44zM637.25 334.73h1.44v-24.78h-1.44zM639.02 334.73h1.44v-24.78h-1.44zM640.79 285.17h1.44v-58.58h-1.44zM642.56 254.53h1.44v-91.46h-1.44zM644.33 316.71h1.44v-37.31h-1.44zM646.1 262.19h1.44v-74.57h-1.44zM647.87 240.86h1.44v-93.89h-1.44zM649.65 282.92h1.44v-21h-1.44zM651.42 314.46h1.44v-32.14h-1.44zM653.19 230.65h1.44v-79.97h-1.44zM654.96 211.57h1.44v-98.26h-1.44zM656.73 203.83h1.44v-101.16h-1.44zM658.5 198.8h1.44v-91.83h-1.44zM660.27 190.54h1.44v-96.13h-1.44zM662.04 268.65h1.44v-59.18h-1.44zM663.82 292.83h1.44v-39.65h-1.44zM665.59 214.05h1.44v-88.36h-1.44zM667.36 191.67h1.44v-114.42h-1.44zM669.13 196.78h1.44v-115.81h-1.44zM670.9 197.45h1.44v-109.06h-1.44zM672.67 194.9h1.44v-116.41h-1.44zM674.44 274.95h1.44v-58.2h-1.44zM676.22 303.19h1.44v-39.09h-1.44zM677.99 228.09h1.44v-79.82h-1.44zM679.76 214.65h1.44v-102.07h-1.44zM681.53 229.37h1.44v-105.13h-1.44zM683.3 237.1h1.44v-93.2h-1.44zM685.07 240.86h1.44v-93.31h-1.44zM686.84 303.19h1.44v-42.73h-1.44zM688.61 330.98h1.44v-30.45h-1.44zM690.39 278.78h1.44v-55.91h-1.44zM692.16 267.29h1.44v-70.43h-1.44zM693.93 277.66h1.44v-63.46h-1.44zM695.7 290.43h1.44v-57.65h-1.44zM697.47 295.38h1.44v-56.41h-1.44zM699.24 339.99h1.44v-34.37h-1.44zM701.01 356.51h1.44v-30.49h-1.44zM702.78 318.21h1.44v-32.55h-1.44zM704.56 313.26h1.44v-39.39h-1.44zM706.33 320.47h1.44v-32.32h-1.44zM708.1 327.22h1.44v-27.94h-1.44zM709.87 330.98h1.44v-29.21h-1.44zM711.64 358.99h1.44v-15.49h-1.44zM713.41 367.78h1.44v-16.26h-1.44zM715.18 337.36h1.44v-11.75h-1.44zM716.95 339.24h1.44v-20.44h-1.44zM718.73 343.75h1.44v-13.79h-1.44zM720.5 344.5h1.44v-13.67h-1.44zM722.27 345.62h1.44v-13.46h-1.44zM724.04 366.65h1.44v-0.63h-1.44zM725.81 370.03h1.44v-1.24h-1.44zM727.58 352.76h1.44v-10.57h-1.44zM729.35 350.05h1.44v-13.21h-1.44zM731.13 351.26h1.44v-11.74h-1.44zM732.9 352.76h1.44v-10.23h-1.44zM734.67 352.76h1.44v-10.23h-1.44zM736.44 370.03h1.44v-3.58h-1.44zM738.21 371.53h1.44v-2.81h-1.44zM739.98 358.01h1.44v-7.13h-1.44zM741.75 355.16h1.44v-8.29h-1.44zM743.52 355.16h1.44v-8.29h-1.44zM745.3 355.76h1.44v-8.22h-1.44zM747.07 355.76h1.44v-8.22h-1.44zM748.84 373.04h1.44v-2.5h-1.44zM750.61 373.79h1.44v-2.12h-1.44zM752.38 358.77h1.44v-7.22h-1.44zM754.15 356.51h1.44v-8.31h-1.44zM755.92 356.51h1.44v-8.31h-1.44zM757.69 356.51h1.44v-8.31h-1.44zM759.47 355.76h1.44v-9.89h-1.44zM761.24 372.66h1.44v-3.63h-1.44zM763.01 373.79h1.44v-3.05h-1.44zM764.78 358.01h1.44v-8.47h-1.44zM766.55 355.16h1.44v-9.83h-1.44zM768.32 355.16h1.44v-10.3h-1.44zM770.09 355.16h1.44v-10.96h-1.44zM771.87 355.01h1.44v-12.49h-1.44zM773.64 362.82h1.44v-4.84h-1.44zM775.41 371.76h1.44v-2.5h-1.44zM777.18 352.76h1.44v-10.57h-1.44zM778.95 348.78h1.44v-11.93h-1.44zM780.72 348.78h1.44v-10.6h-1.44zM782.49 349h1.44v-10.82h-1.44zM784.26 349h1.44v-13.9h-1.44zM786.04 366.65h1.44v-5.22h-1.44zM787.81 368.53h1.44v-4.35h-1.44zM789.58 346.22h1.44v-9.38h-1.44zM791.35 343h1.44v-12.17h-1.44zM793.12 339.99h1.44v-15.51h-1.44zM794.89 361.77h1.44v-7.55h-1.44zM796.66 361.77h1.44v-7.55h-1.44zM798.43 362.82h1.44v-4.84h-1.44zM800.21 364.77h1.44v-4.4h-1.44zM801.98 344.95h1.44v-10.44h-1.44zM803.75 329.63h1.44v-17.11h-1.44zM805.52 331.73h1.44v-16.94h-1.44zM807.29 333.98h1.44v-17.46h-1.44zM809.06 334.73h1.44v-19.28h-1.44zM810.83 360.27h1.44v-4.84h-1.44zM812.61 363.27h1.44v-4.24h-1.44zM814.38 340.74h1.44v-16.26h-1.44zM816.15 336.69h1.44v-20.16h-1.44zM817.92 336.69h1.44v-21.9h-1.44zM819.69 336.99h1.44v-20.73h-1.44zM821.46 337.74h1.44v-18.67h-1.44zM823.23 361.77h1.44v-7.58h-1.44zM825 366.65h1.44v-7.18h-1.44zM826.78 343h1.44v-16.51h-1.44zM828.55 336.54h1.44v-23.09h-1.44zM830.32 337.74h1.44v-16.27h-1.44zM832.09 338.49h1.44v-17.02h-1.44zM833.86 338.49h1.44v-19.96h-1.44zM835.63 365.53h1.44v-8.23h-1.44zM837.4 366.65h1.44v-5.78h-1.44zM839.17 344.5h1.44v-19.68h-1.44zM840.95 341.04h1.44v-20.84h-1.44zM842.72 342.24h1.44v-19.17h-1.44zM844.49 343.6h1.44v-13.7h-1.44zM846.26 343.6h1.44v-18.78h-1.44zM848.03 367.78h1.44v-5.2h-1.44zM849.8 369.28h1.44v-4.43h-1.44zM851.57 353.51h1.44v-9.98h-1.44zM853.35 349h1.44v-14.56h-1.44zM855.12 348.03h1.44v-15.86h-1.44zM856.89 349.98h1.44v-11h-1.44zM858.66 349.98h1.44v-15.54h-1.44zM860.43 370.78h1.44v-3.47h-1.44zM862.2 371.76h1.44v-2.97h-1.44zM863.97 358.77h1.44v-9.22h-1.44zM865.74 355.76h1.44v-11.1h-1.44zM867.52 356.14h1.44v-10.94h-1.44zM869.29 356.51h1.44v-10.71h-1.44zM871.06 356.89h1.44v-11.09h-1.44zM872.83 372.66h1.44v-2.46h-1.44zM874.6 373.04h1.44v-2.04h-1.44zM876.37 359.52h1.44v-9.3h-1.44zM878.14 356.89h1.44v-12.22h-1.44zM879.91 357.26h1.44v-10.39h-1.44zM881.69 358.01h1.44v-9.94h-1.44zM883.46 358.39h1.44v-10.85h-1.44zM885.23 372.66h1.44v-3.16h-1.44zM887 373.04h1.44v-2.5h-1.44zM888.77 361.77h1.44v-8.22h-1.44zM890.54 359.14h1.44v-9.93h-1.44zM892.31 359.52h1.44v-9.3h-1.44zM894.08 359.89h1.44v-8.34h-1.44zM895.86 360.27h1.44v-8.72h-1.44zM897.63 373.79h1.44v-1.65h-1.44zM899.4 374.31h1.44v-1.33h-1.44zM901.17 364.77h1.44v-9.21h-1.44zM902.94 362.52h1.44v-10.97h-1.44zM904.71 363.27h1.44v-10.39h-1.44zM906.48 364.02h1.44v-9.8h-1.44zM908.26 364.77h1.44v-9.88h-1.44zM910.03 376.04h1.44v-2.55h-1.44zM911.8 376.79h1.44v-2.45h-1.44zM913.57 367.78h1.44v-7.54h-1.44zM915.34 366.28h1.44v-9.11h-1.44zM917.11 366.65h1.44v-8.75h-1.44zM918.88 367.03h1.44v-8.46h-1.44zM920.65 367.4h1.44v-8.5h-1.44zM922.43 377.92h1.44v-1.54h-1.44zM924.2 378.29h1.44v-1.21h-1.44zM925.97 373.04h1.44v-10.12h-1.44zM927.74 377.54h1.44v-5.54h-1.44z"/>
<path id="s-sint" fill="#2ca78b" d="M97 384.3h1.44v-0.08h-1.44zM98.77 384.3h1.44v-0.15h-1.44zM100.54 384.3h1.44v-0.26h-1.44zM102.31 384.3h1.44v-0.41h-1.44zM104.09 384.3h1.44v-0.49h-1.44zM105.86 384.3h1.44v-0.6h-1.44zM107.63 384.3h1.44v-1.13h-1.44zM109.4 384.3h1.44v-2.25h-1.44zM111.17 384.3h1.44v-3.38h-1.44zM112.94 384.3h1.44v-4.88h-1.44zM114.71 384.3h1.44v-6.76h-1.44zM116.48 384.3h1.44v-6.01h-1.44zM118.26 384.3h1.44v-6.38h-1.44zM120.03 384.3h1.44v-12.02h-1.44zM121.8 384.3h1.44v-15.77h-1.44zM123.57 384.3h1.44v-17.27h-1.44zM125.34 384.3h1.44v-20.28h-1.44zM127.11 384.3h1.44v-21.78h-1.44zM128.88 384.3h1.44v-18.77h-1.44zM130.65 384.3h1.44v-18.02h-1.44zM132.43 384.3h1.44v-29.29h-1.44zM134.2 384.3h1.44v-33.79h-1.44zM135.97 384.3h1.44v-35.82h-1.44zM137.74 384.3h1.44v-35.82h-1.44zM139.51 384.3h1.44v-33.79h-1.44zM141.28 384.3h1.44v-26.28h-1.44zM143.05 384.3h1.44v-22.53h-1.44zM144.83 384.3h1.44v-30.72h-1.44zM146.6 384.3h1.44v-30.04h-1.44zM148.37 384.3h1.44v-28.54h-1.44zM150.14 384.3h1.44v-27.04h-1.44zM151.91 384.3h1.44v-26.28h-1.44zM153.68 384.3h1.44v-18.02h-1.44zM155.45 384.3h1.44v-15.02h-1.44zM157.22 384.3h1.44v-19.9h-1.44zM159 384.3h1.44v-19.53h-1.44zM160.77 384.3h1.44v-18.77h-1.44zM162.54 384.3h1.44v-16.52h-1.44zM164.31 384.3h1.44v-15.02h-1.44zM166.08 384.3h1.44v-9.76h-1.44zM167.85 384.3h1.44v-8.26h-1.44zM169.62 384.3h1.44v-11.26h-1.44zM171.39 384.3h1.44v-12.77h-1.44zM173.17 384.3h1.44v-12.02h-1.44zM174.94 384.3h1.44v-11.26h-1.44zM176.71 384.3h1.44v-10.51h-1.44zM178.48 384.3h1.44v-6.38h-1.44zM180.25 384.3h1.44v-5.26h-1.44zM182.02 384.3h1.44v-7.51h-1.44zM183.79 384.3h1.44v-8.26h-1.44zM185.56 384.3h1.44v-7.89h-1.44zM187.34 384.3h1.44v-7.51h-1.44zM189.11 384.3h1.44v-7.13h-1.44zM190.88 384.3h1.44v-3.75h-1.44zM192.65 384.3h1.44v-3h-1.44zM194.42 384.3h1.44v-3.65h-1.44zM196.19 384.3h1.44v-4.06h-1.44zM197.96 384.3h1.44v-4.06h-1.44zM199.74 384.3h1.44v-4.06h-1.44zM201.51 384.3h1.44v-4.06h-1.44zM203.28 384.3h1.44v-2.03h-1.44zM205.05 384.3h1.44v-1.62h-1.44zM206.82 384.3h1.44v-2.23h-1.44zM208.59 384.3h1.44v-2.48h-1.44zM210.36 384.3h1.44v-2.48h-1.44zM212.13 384.3h1.44v-2.48h-1.44zM213.91 384.3h1.44v-2.48h-1.44zM215.68 384.3h1.44v-1.24h-1.44zM217.45 384.3h1.44v-0.99h-1.44zM219.22 384.3h1.44v-2.97h-1.44zM220.99 384.3h1.44v-3.3h-1.44zM222.76 384.3h1.44v-3.3h-1.44zM224.53 384.3h1.44v-3.3h-1.44zM226.3 384.3h1.44v-3.3h-1.44zM228.08 384.3h1.44v-1.65h-1.44zM229.85 384.3h1.44v-1.32h-1.44zM231.62 384.3h1.44v-3.38h-1.44zM233.39 384.3h1.44v-3.75h-1.44zM235.16 384.3h1.44v-3.75h-1.44zM236.93 384.3h1.44v-3.75h-1.44zM238.7 384.3h1.44v-3.75h-1.44zM240.48 384.3h1.44v-1.88h-1.44zM242.25 384.3h1.44v-1.5h-1.44zM244.02 384.3h1.44v-2.7h-1.44zM245.79 384.3h1.44v-3h-1.44zM247.56 384.3h1.44v-3h-1.44zM249.33 384.3h1.44v-3h-1.44zM251.1 384.3h1.44v-3h-1.44zM252.87 384.3h1.44v-1.5h-1.44zM254.65 384.3h1.44v-1.2h-1.44zM256.42 384.3h1.44v-2.3h-1.44zM258.19 384.3h1.44v-2.55h-1.44zM259.96 384.3h1.44v-2.55h-1.44zM261.73 384.3h1.44v-2.55h-1.44zM263.5 384.3h1.44v-2.55h-1.44zM265.27 384.3h1.44v-1.28h-1.44zM267.04 384.3h1.44v-1.02h-1.44zM268.82 384.3h1.44v-1.82h-1.44zM270.59 384.3h1.44v-2.03h-1.44zM272.36 384.3h1.44v-2.03h-1.44zM274.13 384.3h1.44v-2.03h-1.44zM275.9 384.3h1.44v-2.03h-1.44zM277.67 384.3h1.44v-1.01h-1.44zM279.44 384.3h1.44v-0.81h-1.44zM281.22 384.3h1.44v-1.35h-1.44zM282.99 384.3h1.44v-1.5h-1.44zM284.76 384.3h1.44v-1.5h-1.44zM286.53 384.3h1.44v-1.5h-1.44zM288.3 384.3h1.44v-1.5h-1.44zM290.07 384.3h1.44v-0.75h-1.44zM291.84 384.3h1.44v-0.6h-1.44zM293.61 384.3h1.44v-1.55h-1.44zM295.39 384.3h1.44v-1.73h-1.44zM297.16 384.3h1.44v-1.73h-1.44zM298.93 384.3h1.44v-1.73h-1.44zM300.7 384.3h1.44v-1.73h-1.44zM302.47 384.3h1.44v-0.86h-1.44zM304.24 384.3h1.44v-0.69h-1.44zM306.01 384.3h1.44v-2.16h-1.44zM307.78 384.3h1.44v-2.4h-1.44zM309.56 384.3h1.44v-2.4h-1.44zM311.33 384.3h1.44v-2.4h-1.44zM313.1 384.3h1.44v-2.4h-1.44zM314.87 384.3h1.44v-1.2h-1.44zM316.64 384.3h1.44v-0.96h-1.44zM318.41 384.3h1.44v-3.06h-1.44zM320.18 384.3h1.44v-3.6h-1.44zM321.96 384.3h1.44v-3.6h-1.44zM323.73 384.3h1.44v-3.6h-1.44zM325.5 384.3h1.44v-3.91h-1.44zM327.27 384.3h1.44v-2.45h-1.44zM329.04 384.3h1.44v-1.73h-1.44zM330.81 384.3h1.44v-6.32h-1.44zM332.58 384.3h1.44v-7.43h-1.44zM334.35 384.3h1.44v-7.43h-1.44zM336.13 384.3h1.44v-7.43h-1.44zM337.9 384.3h1.44v-8.71h-1.44zM339.67 384.3h1.44v-5.06h-1.44zM341.44 384.3h1.44v-3.57h-1.44zM343.21 384.3h1.44v-9h-1.44zM344.98 384.3h1.44v-10.59h-1.44zM346.75 384.3h1.44v-10.59h-1.44zM348.52 384.3h1.44v-10.59h-1.44zM350.3 384.3h1.44v-11.26h-1.44zM352.07 384.3h1.44v-7.2h-1.44zM353.84 384.3h1.44v-5.08h-1.44zM355.61 384.3h1.44v-11.49h-1.44zM357.38 384.3h1.44v-13.52h-1.44zM359.15 384.3h1.44v-13.52h-1.44zM360.92 384.3h1.44v-13.52h-1.44zM362.69 384.3h1.44v-14.64h-1.44zM364.47 384.3h1.44v-9.19h-1.44zM366.24 384.3h1.44v-6.49h-1.44zM368.01 384.3h1.44v-16.09h-1.44zM369.78 384.3h1.44v-18.93h-1.44zM371.55 384.3h1.44v-18.93h-1.44zM373.32 384.3h1.44v-18.93h-1.44zM375.09 384.3h1.44v-22.08h-1.44zM376.87 384.3h1.44v-12.87h-1.44zM378.64 384.3h1.44v-9.08h-1.44zM380.41 384.3h1.44v-24.26h-1.44zM382.18 384.3h1.44v-28.54h-1.44zM383.95 384.3h1.44v-28.54h-1.44zM385.72 384.3h1.44v-28.54h-1.44zM387.49 384.3h1.44v-33.79h-1.44zM389.26 384.3h1.44v-19.41h-1.44zM391.04 384.3h1.44v-13.7h-1.44zM392.81 384.3h1.44v-27.13h-1.44zM394.58 384.3h1.44v-31.92h-1.44zM396.35 384.3h1.44v-31.92h-1.44zM398.12 384.3h1.44v-31.92h-1.44zM399.89 384.3h1.44v-33.79h-1.44zM401.66 384.3h1.44v-21.7h-1.44zM403.43 384.3h1.44v-15.32h-1.44zM405.21 384.3h1.44v-29.62h-1.44zM406.98 384.3h1.44v-34.85h-1.44zM408.75 384.3h1.44v-34.85h-1.44zM410.52 384.3h1.44v-34.85h-1.44zM412.29 384.3h1.44v-36.8h-1.44zM414.06 384.3h1.44v-23.7h-1.44zM415.83 384.3h1.44v-16.73h-1.44zM417.61 384.3h1.44v-31.28h-1.44zM419.38 384.3h1.44v-36.8h-1.44zM421.15 384.3h1.44v-36.8h-1.44zM422.92 384.3h1.44v-36.8h-1.44zM424.69 384.3h1.44v-46.94h-1.44zM426.46 384.3h1.44v-25.02h-1.44zM428.23 384.3h1.44v-17.66h-1.44zM430 384.3h1.44v-40.47h-1.44zM431.78 384.3h1.44v-47.61h-1.44zM433.55 384.3h1.44v-47.61h-1.44zM435.32 384.3h1.44v-47.61h-1.44zM437.09 384.3h1.44v-55.27h-1.44zM438.86 384.3h1.44v-32.38h-1.44zM440.63 384.3h1.44v-22.85h-1.44zM442.4 384.3h1.44v-45.9h-1.44zM444.17 384.3h1.44v-54h-1.44zM445.95 384.3h1.44v-54h-1.44zM447.72 384.3h1.44v-54h-1.44zM449.49 384.3h1.44v-56.32h-1.44zM451.26 384.3h1.44v-36.72h-1.44zM453.03 384.3h1.44v-25.92h-1.44zM454.8 384.3h1.44v-36.71h-1.44zM456.57 384.3h1.44v-43.18h-1.44zM458.35 384.3h1.44v-43.18h-1.44zM460.12 384.3h1.44v-43.18h-1.44zM461.89 384.3h1.44v-45.81h-1.44zM463.66 384.3h1.44v-29.36h-1.44zM465.43 384.3h1.44v-20.73h-1.44zM467.2 384.3h1.44v-36.71h-1.44zM468.97 384.3h1.44v-43.18h-1.44zM470.74 384.3h1.44v-43.18h-1.44zM472.52 384.3h1.44v-43.18h-1.44zM474.29 384.3h1.44v-50.17h-1.44zM476.06 384.3h1.44v-29.36h-1.44zM477.83 384.3h1.44v-20.73h-1.44zM479.6 384.3h1.44v-40.55h-1.44zM481.37 384.3h1.44v-49.57h-1.44zM483.14 384.3h1.44v-51.07h-1.44zM484.91 384.3h1.44v-54.07h-1.44zM486.69 384.3h1.44v-57.08h-1.44zM488.46 384.3h1.44v-29.29h-1.44zM490.23 384.3h1.44v-24.78h-1.44zM492 384.3h1.44v-48.81h-1.44zM493.77 384.3h1.44v-57.08h-1.44zM495.54 384.3h1.44v-69.84h-1.44zM497.31 384.3h1.44v-71.34h-1.44zM499.09 384.3h1.44v-71.34h-1.44zM500.86 384.3h1.44v-37.55h-1.44zM502.63 384.3h1.44v-32.97h-1.44zM504.4 384.3h1.44v-63.83h-1.44zM506.17 384.3h1.44v-85.24h-1.44zM507.94 384.3h1.44v-95.38h-1.44zM509.71 384.3h1.44v-95.38h-1.44zM511.48 384.3h1.44v-96.13h-1.44zM513.26 384.3h1.44v-56.32h-1.44zM515.03 384.3h1.44v-44.31h-1.44zM516.8 384.3h1.44v-67.59h-1.44zM518.57 384.3h1.44v-82.61h-1.44zM520.34 384.3h1.44v-95.38h-1.44zM522.11 384.3h1.44v-95.38h-1.44zM523.88 384.3h1.44v-95.75h-1.44zM525.65 384.3h1.44v-55.57h-1.44zM527.43 384.3h1.44v-43.18h-1.44zM529.2 384.3h1.44v-66.09h-1.44zM530.97 384.3h1.44v-90.12h-1.44zM532.74 384.3h1.44v-96.13h-1.44zM534.51 384.3h1.44v-95.38h-1.44zM536.28 384.3h1.44v-94.63h-1.44zM538.05 384.3h1.44v-51.82h-1.44zM539.82 384.3h1.44v-38.08h-1.44zM541.6 384.3h1.44v-62.33h-1.44zM543.37 384.3h1.44v-83.36h-1.44zM545.14 384.3h1.44v-80.36h-1.44zM546.91 384.3h1.44v-75.85h-1.44zM548.68 384.3h1.44v-72.47h-1.44zM550.45 384.3h1.44v-33.79h-1.44zM552.22 384.3h1.44v-25.31h-1.44zM554 384.3h1.44v-47.31h-1.44zM555.77 384.3h1.44v-61.58h-1.44zM557.54 384.3h1.44v-57.83h-1.44zM559.31 384.3h1.44v-55.57h-1.44zM561.08 384.3h1.44v-53.32h-1.44zM562.85 384.3h1.44v-25.53h-1.44zM564.62 384.3h1.44v-18.93h-1.44zM566.39 384.3h1.44v-36.05h-1.44zM568.17 384.3h1.44v-46.94h-1.44zM569.94 384.3h1.44v-44.31h-1.44zM571.71 384.3h1.44v-42.06h-1.44zM573.48 384.3h1.44v-41.3h-1.44zM575.25 384.3h1.44v-18.02h-1.44zM577.02 384.3h1.44v-13.82h-1.44zM578.79 384.3h1.44v-31.54h-1.44zM580.56 384.3h1.44v-40.55h-1.44zM582.34 384.3h1.44v-39.05h-1.44zM584.11 384.3h1.44v-36.8h-1.44zM585.88 384.3h1.44v-35.3h-1.44zM587.65 384.3h1.44v-18.02h-1.44zM589.42 384.3h1.44v-15.02h-1.44zM591.19 384.3h1.44v-16.52h-1.44zM592.96 384.3h1.44v-19.53h-1.44zM594.74 384.3h1.44v-48.81h-1.44zM596.51 384.3h1.44v-50.84h-1.44zM598.28 384.3h1.44v-51.82h-1.44zM600.05 384.3h1.44v-24.03h-1.44zM601.82 384.3h1.44v-21.4h-1.44zM603.59 384.3h1.44v-43.56h-1.44zM605.36 384.3h1.44v-54.82h-1.44zM607.13 384.3h1.44v-54.07h-1.44zM608.91 384.3h1.44v-53.32h-1.44zM610.68 384.3h1.44v-54.07h-1.44zM612.45 384.3h1.44v-24.03h-1.44zM614.22 384.3h1.44v-21.4h-1.44zM615.99 384.3h1.44v-48.81h-1.44zM617.76 384.3h1.44v-58.58h-1.44zM619.53 384.3h1.44v-63.08h-1.44zM621.3 384.3h1.44v-44.31h-1.44zM623.08 384.3h1.44v-24.03h-1.44zM624.85 384.3h1.44v-26.28h-1.44zM626.62 384.3h1.44v-29.29h-1.44zM628.39 384.3h1.44v-73.6h-1.44zM630.16 384.3h1.44v-83.81h-1.44zM631.93 384.3h1.44v-92.75h-1.44zM633.7 384.3h1.44v-68.49h-1.44zM635.48 384.3h1.44v-35.3h-1.44zM637.25 384.3h1.44v-49.57h-1.44zM639.02 384.3h1.44v-49.57h-1.44zM640.79 384.3h1.44v-99.13h-1.44zM642.56 384.3h1.44v-129.77h-1.44zM644.33 384.3h1.44v-67.59h-1.44zM646.1 384.3h1.44v-122.11h-1.44zM647.87 384.3h1.44v-143.44h-1.44zM649.65 384.3h1.44v-101.38h-1.44zM651.42 384.3h1.44v-69.84h-1.44zM653.19 384.3h1.44v-153.65h-1.44zM654.96 384.3h1.44v-172.73h-1.44zM656.73 384.3h1.44v-180.47h-1.44zM658.5 384.3h1.44v-185.5h-1.44zM660.27 384.3h1.44v-193.76h-1.44zM662.04 384.3h1.44v-115.65h-1.44zM663.82 384.3h1.44v-91.47h-1.44zM665.59 384.3h1.44v-170.25h-1.44zM667.36 384.3h1.44v-192.63h-1.44zM669.13 384.3h1.44v-187.52h-1.44zM670.9 384.3h1.44v-186.85h-1.44zM672.67 384.3h1.44v-189.4h-1.44zM674.44 384.3h1.44v-109.35h-1.44zM676.22 384.3h1.44v-81.11h-1.44zM677.99 384.3h1.44v-156.21h-1.44zM679.76 384.3h1.44v-169.65h-1.44zM681.53 384.3h1.44v-154.93h-1.44zM683.3 384.3h1.44v-147.2h-1.44zM685.07 384.3h1.44v-143.44h-1.44zM686.84 384.3h1.44v-81.11h-1.44zM688.61 384.3h1.44v-53.32h-1.44zM690.39 384.3h1.44v-105.52h-1.44zM692.16 384.3h1.44v-117.01h-1.44zM693.93 384.3h1.44v-106.64h-1.44zM695.7 384.3h1.44v-93.87h-1.44zM697.47 384.3h1.44v-88.92h-1.44zM699.24 384.3h1.44v-44.31h-1.44zM701.01 384.3h1.44v-27.79h-1.44zM702.78 384.3h1.44v-66.09h-1.44zM704.56 384.3h1.44v-71.04h-1.44zM706.33 384.3h1.44v-63.83h-1.44zM708.1 384.3h1.44v-57.08h-1.44zM709.87 384.3h1.44v-53.32h-1.44zM711.64 384.3h1.44v-25.31h-1.44zM713.41 384.3h1.44v-16.52h-1.44zM715.18 384.3h1.44v-46.94h-1.44zM716.95 384.3h1.44v-45.06h-1.44zM718.73 384.3h1.44v-40.55h-1.44zM720.5 384.3h1.44v-39.8h-1.44zM722.27 384.3h1.44v-38.68h-1.44zM724.04 384.3h1.44v-17.65h-1.44zM725.81 384.3h1.44v-14.27h-1.44zM727.58 384.3h1.44v-31.54h-1.44zM729.35 384.3h1.44v-34.25h-1.44zM731.13 384.3h1.44v-33.04h-1.44zM732.9 384.3h1.44v-31.54h-1.44zM734.67 384.3h1.44v-31.54h-1.44zM736.44 384.3h1.44v-14.27h-1.44zM738.21 384.3h1.44v-12.77h-1.44zM739.98 384.3h1.44v-26.28h-1.44zM741.75 384.3h1.44v-29.14h-1.44zM743.52 384.3h1.44v-29.14h-1.44zM745.3 384.3h1.44v-28.54h-1.44zM747.07 384.3h1.44v-28.54h-1.44zM748.84 384.3h1.44v-11.26h-1.44zM750.61 384.3h1.44v-10.51h-1.44zM752.38 384.3h1.44v-25.53h-1.44zM754.15 384.3h1.44v-27.79h-1.44zM755.92 384.3h1.44v-27.79h-1.44zM757.69 384.3h1.44v-27.79h-1.44zM759.47 384.3h1.44v-28.54h-1.44zM761.24 384.3h1.44v-11.64h-1.44zM763.01 384.3h1.44v-10.51h-1.44zM764.78 384.3h1.44v-26.28h-1.44zM766.55 384.3h1.44v-29.14h-1.44zM768.32 384.3h1.44v-29.14h-1.44zM770.09 384.3h1.44v-29.14h-1.44zM771.87 384.3h1.44v-29.29h-1.44zM773.64 384.3h1.44v-21.48h-1.44zM775.41 384.3h1.44v-12.54h-1.44zM777.18 384.3h1.44v-31.54h-1.44zM778.95 384.3h1.44v-35.52h-1.44zM780.72 384.3h1.44v-35.52h-1.44zM782.49 384.3h1.44v-35.3h-1.44zM784.26 384.3h1.44v-35.3h-1.44zM786.04 384.3h1.44v-17.65h-1.44zM787.81 384.3h1.44v-15.77h-1.44zM789.58 384.3h1.44v-38.08h-1.44zM791.35 384.3h1.44v-41.3h-1.44zM793.12 384.3h1.44v-44.31h-1.44zM794.89 384.3h1.44v-22.53h-1.44zM796.66 384.3h1.44v-22.53h-1.44zM798.43 384.3h1.44v-21.48h-1.44zM800.21 384.3h1.44v-19.53h-1.44zM801.98 384.3h1.44v-39.35h-1.44zM803.75 384.3h1.44v-54.67h-1.44zM805.52 384.3h1.44v-52.57h-1.44zM807.29 384.3h1.44v-50.32h-1.44zM809.06 384.3h1.44v-49.57h-1.44zM810.83 384.3h1.44v-24.03h-1.44zM812.61 384.3h1.44v-21.03h-1.44zM814.38 384.3h1.44v-43.56h-1.44zM816.15 384.3h1.44v-47.61h-1.44zM817.92 384.3h1.44v-47.61h-1.44zM819.69 384.3h1.44v-47.31h-1.44zM821.46 384.3h1.44v-46.56h-1.44zM823.23 384.3h1.44v-22.53h-1.44zM825 384.3h1.44v-17.65h-1.44zM826.78 384.3h1.44v-41.3h-1.44zM828.55 384.3h1.44v-47.76h-1.44zM830.32 384.3h1.44v-46.56h-1.44zM832.09 384.3h1.44v-45.81h-1.44zM833.86 384.3h1.44v-45.81h-1.44zM835.63 384.3h1.44v-18.77h-1.44zM837.4 384.3h1.44v-17.65h-1.44zM839.17 384.3h1.44v-39.8h-1.44zM840.95 384.3h1.44v-43.26h-1.44zM842.72 384.3h1.44v-42.06h-1.44zM844.49 384.3h1.44v-40.7h-1.44zM846.26 384.3h1.44v-40.7h-1.44zM848.03 384.3h1.44v-16.52h-1.44zM849.8 384.3h1.44v-15.02h-1.44zM851.57 384.3h1.44v-30.79h-1.44zM853.35 384.3h1.44v-35.3h-1.44zM855.12 384.3h1.44v-36.27h-1.44zM856.89 384.3h1.44v-34.32h-1.44zM858.66 384.3h1.44v-34.32h-1.44zM860.43 384.3h1.44v-13.52h-1.44zM862.2 384.3h1.44v-12.54h-1.44zM863.97 384.3h1.44v-25.53h-1.44zM865.74 384.3h1.44v-28.54h-1.44zM867.52 384.3h1.44v-28.16h-1.44zM869.29 384.3h1.44v-27.79h-1.44zM871.06 384.3h1.44v-27.41h-1.44zM872.83 384.3h1.44v-11.64h-1.44zM874.6 384.3h1.44v-11.26h-1.44zM876.37 384.3h1.44v-24.78h-1.44zM878.14 384.3h1.44v-27.41h-1.44zM879.91 384.3h1.44v-27.04h-1.44zM881.69 384.3h1.44v-26.28h-1.44zM883.46 384.3h1.44v-25.91h-1.44zM885.23 384.3h1.44v-11.64h-1.44zM887 384.3h1.44v-11.26h-1.44zM888.77 384.3h1.44v-22.53h-1.44zM890.54 384.3h1.44v-25.16h-1.44zM892.31 384.3h1.44v-24.78h-1.44zM894.08 384.3h1.44v-24.41h-1.44zM895.86 384.3h1.44v-24.03h-1.44zM897.63 384.3h1.44v-10.51h-1.44zM899.4 384.3h1.44v-9.99h-1.44zM901.17 384.3h1.44v-19.53h-1.44zM902.94 384.3h1.44v-21.78h-1.44zM904.71 384.3h1.44v-21.03h-1.44zM906.48 384.3h1.44v-20.28h-1.44zM908.26 384.3h1.44v-19.53h-1.44zM910.03 384.3h1.44v-8.26h-1.44zM911.8 384.3h1.44v-7.51h-1.44zM913.57 384.3h1.44v-16.52h-1.44zM915.34 384.3h1.44v-18.02h-1.44zM917.11 384.3h1.44v-17.65h-1.44zM918.88 384.3h1.44v-17.27h-1.44zM920.65 384.3h1.44v-16.9h-1.44zM922.43 384.3h1.44v-6.38h-1.44zM924.2 384.3h1.44v-6.01h-1.44zM925.97 384.3h1.44v-11.26h-1.44zM927.74 384.3h1.44v-6.76h-1.44z"/>
</g>
<rect x="77" y="384.2" width="852" height="1.2" fill="#aee3d8"/>
<g id="xaxis">
<text class="xl" transform="translate(84.79,399.5) rotate(-59.5)">21/02/2020</text>
<text class="xl" transform="translate(104.27,399.5) rotate(-59.5)">03/03/2020</text>
<text class="xl" transform="translate(123.75,399.5) rotate(-59.5)">14/03/2020</text>
<text class="xl" transform="translate(143.24,399.5) rotate(-59.5)">25/03/2020</text>
<text class="xl" transform="translate(162.72,399.5) rotate(-59.5)">05/04/2020</text>
<text class="xl" transform="translate(182.21,399.5) rotate(-59.5)">16/04/2020</text>
<text class="xl" transform="translate(201.69,399.5) rotate(-59.5)">27/04/2020</text>
<text class="xl" transform="translate(221.18,399.5) rotate(-59.5)">08/05/2020</text>
<text class="xl" transform="translate(240.66,399.5) rotate(-59.5)">19/05/2020</text>
<text class="xl" transform="translate(260.14,399.5) rotate(-59.5)">30/05/2020</text>
<text class="xl" transform="translate(279.63,399.5) rotate(-59.5)">10/06/2020</text>
<text class="xl" transform="translate(299.11,399.5) rotate(-59.5)">21/06/2020</text>
<text class="xl" transform="translate(318.6,399.5) rotate(-59.5)">02/07/2020</text>
<text class="xl" transform="translate(338.08,399.5) rotate(-59.5)">13/07/2020</text>
<text class="xl" transform="translate(357.57,399.5) rotate(-59.5)">24/07/2020</text>
<text class="xl" transform="translate(377.05,399.5) rotate(-59.5)">04/08/2020</text>
<text class="xl" transform="translate(396.53,399.5) rotate(-59.5)">15/08/2020</text>
<text class="xl" transform="translate(416.02,399.5) rotate(-59.5)">26/08/2020</text>
<text class="xl" transform="translate(435.5,399.5) rotate(-59.5)">06/09/2020</text>
<text class="xl" transform="translate(454.99,399.5) rotate(-59.5)">17/09/2020</text>
<text class="xl" transform="translate(474.47,399.5) rotate(-59.5)">28/09/2020</text>
<text class="xl" transform="translate(493.96,399.5) rotate(-59.5)">09/10/2020</text>
<text class="xl" transform="translate(513.44,399.5) rotate(-59.5)">20/10/2020</text>
<text class="xl" transform="translate(532.92,399.5) rotate(-59.5)">31/10/2020</text>
<text class="xl" transform="translate(552.41,399.5) rotate(-59.5)">11/11/2020</text>
<text class="xl" transform="translate(571.89,399.5) rotate(-59.5)">22/11/2020</text>
<text class="xl" transform="translate(591.38,399.5) rotate(-59.5)">03/12/2020</text>
<text class="xl" transform="translate(610.86,399.5) rotate(-59.5)">14/12/2020</text>
<text class="xl" transform="translate(630.35,399.5) rotate(-59.5)">25/12/2020</text>
<text class="xl" transform="translate(649.83,399.5) rotate(-59.5)">05/01/2021</text>
<text class="xl" transform="translate(669.31,399.5) rotate(-59.5)">16/01/2021</text>
<text class="xl" transform="translate(688.8,399.5) rotate(-59.5)">27/01/2021</text>
<text class="xl" transform="translate(708.28,399.5) rotate(-59.5)">07/02/2021</text>
<text class="xl" transform="translate(727.77,399.5) rotate(-59.5)">18/02/2021</text>
<text class="xl" transform="translate(747.25,399.5) rotate(-59.5)">01/03/2021</text>
<text class="xl" transform="translate(766.74,399.5) rotate(-59.5)">12/03/2021</text>
<text class="xl" transform="translate(786.22,399.5) rotate(-59.5)">23/03/2021</text>
<text class="xl" transform="translate(805.7,399.5) rotate(-59.5)">03/04/2021</text>
<text class="xl" transform="translate(825.19,399.5) rotate(-59.5)">14/04/2021</text>
<text class="xl" transform="translate(844.67,399.5) rotate(-59.5)">25/04/2021</text>
<text class="xl" transform="translate(864.16,399.5) rotate(-59.5)">06/05/2021</text>
<text class="xl" transform="translate(883.64,399.5) rotate(-59.5)">17/05/2021</text>
<text class="xl" transform="translate(903.13,399.5) rotate(-59.5)">28/05/2021</text>
<text class="xl" transform="translate(922.61,399.5) rotate(-59.5)">08/06/2021</text>
</g>
<g id="legend">
<rect x="-13.3" y="468.5" width="25" height="12.3" rx="1.6" fill="#1fa085"/>
<text class="lg" x="14.6" y="478.2" textLength="51.4" lengthAdjust="spacingAndGlyphs">Sintomáticos</text>
<rect x="71.3" y="468.5" width="25" height="12.3" rx="1.6" fill="#9ed8cb"/>
<text class="lg" x="98.9" y="478.2" textLength="55.4" lengthAdjust="spacingAndGlyphs">Asintomáticos</text>
<rect x="159.6" y="468.5" width="25.2" height="12.3" rx="1.6" fill="#c4c0c0"/>
<text class="lg" x="188" y="478.2" textLength="52.7" lengthAdjust="spacingAndGlyphs">No registrado</text>
</g>
</svg>
</body>
</html>
